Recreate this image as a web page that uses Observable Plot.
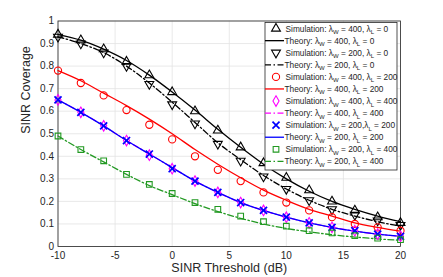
<!DOCTYPE html>
<html>
<head>
<meta charset="utf-8">
<script src="https://cdn.jsdelivr.net/npm/d3@7"></script>
<script src="https://cdn.jsdelivr.net/npm/@observablehq/plot@0.6"></script>
<style>
  body { margin: 0; background: #fff; }
  #wrap { position: relative; width: 443px; height: 277px; font-family: "Liberation Sans", Arial, sans-serif; }
  #legend { position: absolute; left: 0; top: 0; }
</style>
</head>
<body>
<div id="wrap"></div>
<script>
const thresholds = [-10, -8, -6, -4, -2, 0, 2, 4, 6, 8, 10, 12, 14, 16, 18, 20];

// Simulation values
const sim_W400_L0   = [0.94, 0.915, 0.875, 0.82, 0.76, 0.685, 0.60, 0.515, 0.44, 0.37, 0.305, 0.25, 0.20, 0.16, 0.13, 0.105];
const sim_W200_L0   = [0.93, 0.90, 0.86, 0.80, 0.72, 0.63, 0.545, 0.455, 0.38, 0.31, 0.255, 0.205, 0.165, 0.14, 0.115, 0.095];
const sim_W400_L200 = [0.78, 0.725, 0.67, 0.605, 0.54, 0.475, 0.40, 0.34, 0.29, 0.24, 0.195, 0.16, 0.13, 0.10, 0.085, 0.07];
const sim_W400_L400 = [0.65, 0.595, 0.535, 0.47, 0.405, 0.345, 0.29, 0.24, 0.195, 0.16, 0.13, 0.105, 0.085, 0.07, 0.055, 0.045];
const sim_W200_L200 = [0.65, 0.595, 0.535, 0.47, 0.41, 0.345, 0.29, 0.24, 0.195, 0.16, 0.13, 0.105, 0.085, 0.07, 0.055, 0.045];
const sim_W200_L400 = [0.49, 0.43, 0.38, 0.32, 0.275, 0.235, 0.195, 0.165, 0.135, 0.11, 0.09, 0.07, 0.06, 0.048, 0.037, 0.03];

// Theory values
const th_W400_L0   = [0.94, 0.915, 0.875, 0.825, 0.76, 0.685, 0.605, 0.52, 0.44, 0.365, 0.30, 0.245, 0.20, 0.165, 0.135, 0.11];
const th_W200_L0   = [0.93, 0.90, 0.86, 0.80, 0.725, 0.64, 0.55, 0.46, 0.385, 0.315, 0.255, 0.205, 0.165, 0.135, 0.11, 0.09];
const th_W400_L200 = [0.78, 0.735, 0.68, 0.625, 0.565, 0.50, 0.43, 0.365, 0.305, 0.25, 0.205, 0.165, 0.135, 0.105, 0.085, 0.068];
const th_W400_L400 = [0.65, 0.595, 0.535, 0.47, 0.41, 0.35, 0.29, 0.24, 0.195, 0.16, 0.13, 0.105, 0.085, 0.068, 0.055, 0.045];
const th_W200_L200 = [0.65, 0.595, 0.535, 0.47, 0.41, 0.35, 0.29, 0.24, 0.195, 0.16, 0.13, 0.105, 0.085, 0.068, 0.055, 0.045];
const th_W200_L400 = [0.49, 0.43, 0.375, 0.32, 0.27, 0.23, 0.19, 0.155, 0.125, 0.10, 0.08, 0.065, 0.052, 0.042, 0.034, 0.027];

const xTicks = [-10, -5, 0, 5, 10, 15, 20];
const yTicks = [0, 0.1, 0.2, 0.3, 0.4, 0.5, 0.6, 0.7, 0.8, 0.9, 1];

const black = "#000000", red = "#ff0000", magenta = "#ff00ff", blue = "#0000ff", green = "#229922";
const dashDot = "6,2.5,1.5,2.5";

const series = [
  {kind: "sim", w: 400, l: 0,   vals: sim_W400_L0,   color: black,   symbol: "triangle", rotate: 0},
  {kind: "th",  w: 400, l: 0,   vals: th_W400_L0,    color: black,   dash: null},
  {kind: "sim", w: 200, l: 0,   vals: sim_W200_L0,   color: black,   symbol: "triangle", rotate: 180},
  {kind: "th",  w: 200, l: 0,   vals: th_W200_L0,    color: black,   dash: dashDot},
  {kind: "sim", w: 400, l: 200, vals: sim_W400_L200, color: red,     symbol: "circle", rotate: 0},
  {kind: "th",  w: 400, l: 200, vals: th_W400_L200,  color: red,     dash: null},
  {kind: "sim", w: 400, l: 400, vals: sim_W400_L400, color: magenta, symbol: "diamond", rotate: 0},
  {kind: "th",  w: 400, l: 400, vals: th_W400_L400,  color: magenta, dash: dashDot},
  {kind: "sim", w: 200, l: 200, vals: sim_W200_L200, color: blue,    symbol: "times", rotate: 0, nospace: true},
  {kind: "th",  w: 200, l: 200, vals: th_W200_L200,  color: blue,    dash: null},
  {kind: "sim", w: 200, l: 400, vals: sim_W200_L400, color: green,   symbol: "square", rotate: 0},
  {kind: "th",  w: 200, l: 400, vals: th_W200_L400,  color: green,   dash: dashDot}
];

const symR = {triangle: 3.3, circle: 3.6, diamond: 3.2, times: 3.3, square: 3.2};
const symW = {triangle: 1.1, circle: 1.1, diamond: 1.1, times: 1.7, square: 1.1};

const W = 443, H = 277;
const mL = 57.5, mR = 43, mT = 20.5, mB = 31;

const marks = [
  Plot.gridX(xTicks, {stroke: "#e3e3e3", strokeOpacity: 1, strokeWidth: 0.8}),
  Plot.gridY(yTicks, {stroke: "#e3e3e3", strokeOpacity: 1, strokeWidth: 0.8}),
  Plot.frame({stroke: "#262626", strokeWidth: 0.8})
];

series.filter(s => s.kind === "th").forEach(s => {
  const data = thresholds.map((x, i) => ({x, y: s.vals[i]}));
  marks.push(Plot.line(data, {x: "x", y: "y", stroke: s.color, strokeWidth: 1.3,
    strokeDasharray: s.dash || undefined, curve: "monotone-x"}));
});
series.filter(s => s.kind === "sim").forEach(s => {
  const data = thresholds.map((x, i) => ({x, y: s.vals[i]}));
  marks.push(Plot.dot(data, {x: "x", y: "y", symbol: s.symbol, r: symR[s.symbol], rotate: s.rotate,
    stroke: s.color, fill: "none", strokeWidth: symW[s.symbol]}));
});

const chart = Plot.plot({
  width: W, height: H,
  marginLeft: mL, marginRight: mR, marginTop: mT, marginBottom: mB,
  style: {fontFamily: "'Liberation Sans', Arial, sans-serif", fontSize: "10px", color: "#262626", background: "white"},
  x: {domain: [-10, 20], label: null},
  y: {domain: [0, 1], label: null},
  marks: [
    ...marks,
    Plot.axisX(xTicks, {tickSize: 0, tickPadding: 5.5, fontSize: 10, tickFormat: d => String(d), label: null}),
    Plot.axisY(yTicks, {tickSize: 0, tickPadding: 4, fontSize: 10, tickFormat: d => String(d), label: null}),
    Plot.text(["SINR Threshold (dB)"], {frameAnchor: "bottom", dy: 25, fontSize: 12.5, fill: "#262626"}),
    Plot.text(["SINR Coverage"], {frameAnchor: "left", dx: -32, rotate: -90, fontSize: 12.5, fill: "#262626"})
  ]
});

const wrap = document.getElementById("wrap");
wrap.appendChild(chart);

// Legend overlay (inside the axes, top-right)
const ns = "http://www.w3.org/2000/svg";
const lg = document.createElementNS(ns, "svg");
lg.setAttribute("id", "legend");
lg.setAttribute("width", W);
lg.setAttribute("height", H);
const bx = 265, by = 22.5, bw = 132, bh = 147.5, rowH = 12.07, row0 = 28.6;
const rect = document.createElementNS(ns, "rect");
rect.setAttribute("x", bx); rect.setAttribute("y", by);
rect.setAttribute("width", bw); rect.setAttribute("height", bh);
rect.setAttribute("fill", "white"); rect.setAttribute("stroke", "#262626"); rect.setAttribute("stroke-width", 0.8);
lg.appendChild(rect);
const symMap = {triangle: d3.symbolTriangle, circle: d3.symbolCircle, diamond: d3.symbolDiamond, times: d3.symbolTimes, square: d3.symbolSquare};
series.forEach((s, i) => {
  const cy = row0 + i * rowH;
  if (s.kind === "th") {
    const ln = document.createElementNS(ns, "line");
    ln.setAttribute("x1", bx); ln.setAttribute("x2", bx + 19);
    ln.setAttribute("y1", cy); ln.setAttribute("y2", cy);
    ln.setAttribute("stroke", s.color); ln.setAttribute("stroke-width", 1.3);
    if (s.dash) ln.setAttribute("stroke-dasharray", s.dash);
    lg.appendChild(ln);
  } else {
    const r = symR[s.symbol];
    const p = document.createElementNS(ns, "path");
    p.setAttribute("d", d3.symbol(symMap[s.symbol], Math.PI * r * r)());
    p.setAttribute("transform", `translate(${bx + 11},${cy}) rotate(${s.rotate})`);
    p.setAttribute("fill", "none"); p.setAttribute("stroke", s.color);
    p.setAttribute("stroke-width", symW[s.symbol]);
    lg.appendChild(p);
  }
  const t = document.createElementNS(ns, "text");
  t.setAttribute("x", s.kind === "sim" ? bx + 20.5 : bx + 19.5);
  t.setAttribute("y", cy + 3);
  t.setAttribute("font-size", "8.3");
  t.setAttribute("fill", "#262626");
  t.setAttribute("font-family", "'Liberation Sans', Arial, sans-serif");
  const prefix = s.kind === "sim" ? "Simulation: " : "Theory: ";
  const parts = [
    [prefix + "λ", 0], ["W", 1], [" = " + s.w + "," + (s.nospace ? "" : " ") + "λ", 0], ["L", 1], [" = " + s.l, 0]
  ];
  parts.forEach(([txt, sub], k) => {
    const ts = document.createElementNS(ns, "tspan");
    ts.textContent = txt;
    if (sub) { ts.setAttribute("font-size", "6"); ts.setAttribute("dy", "2.5"); }
    else if (k > 0) { ts.setAttribute("dy", "-2.5"); }
    t.appendChild(ts);
  });
  lg.appendChild(t);
});
wrap.appendChild(lg);
</script>
</body>
</html>
